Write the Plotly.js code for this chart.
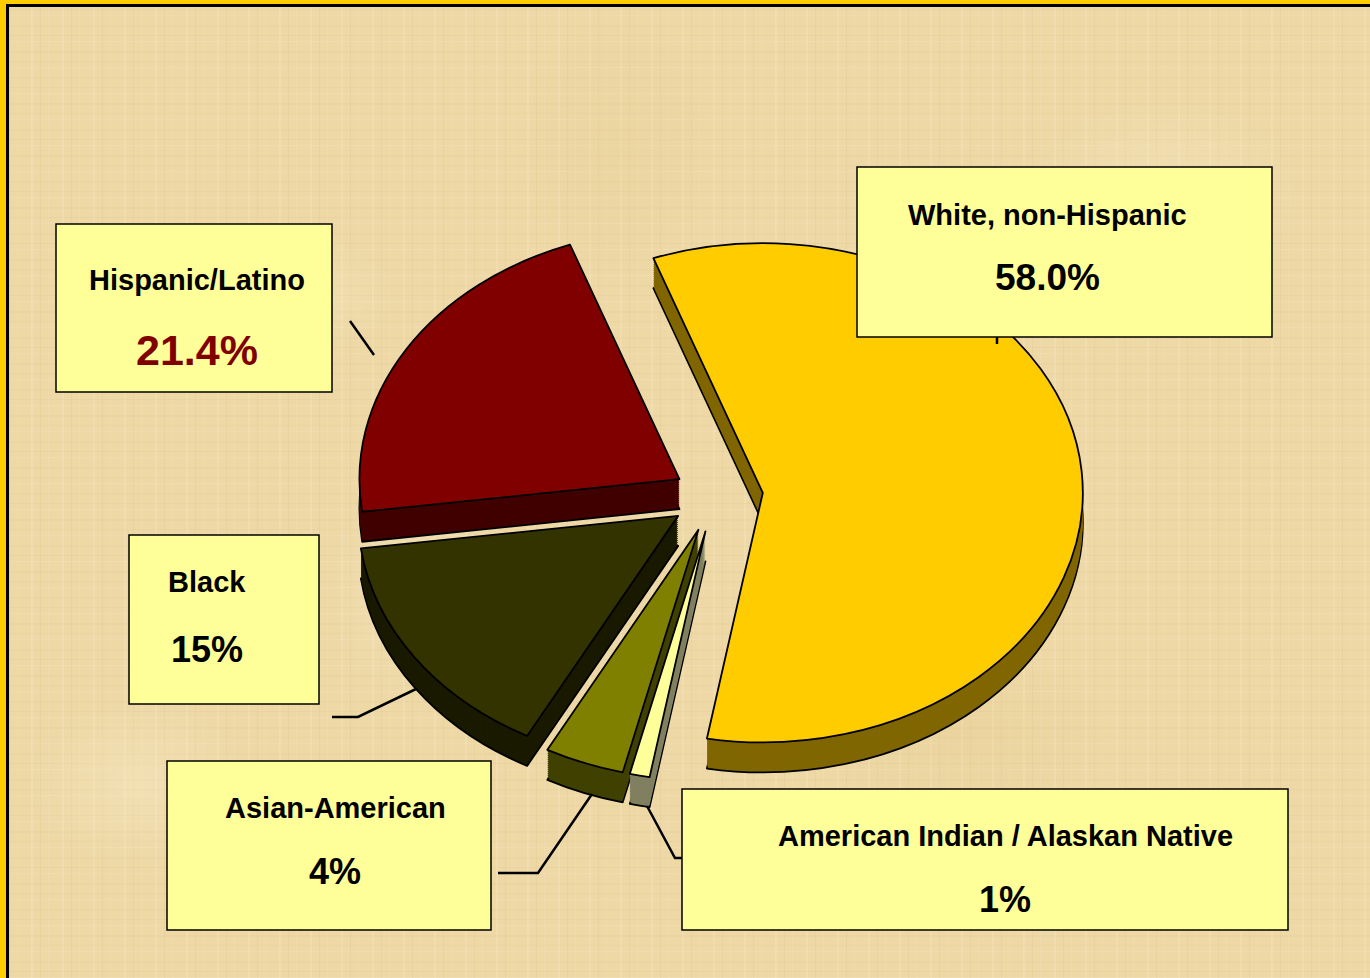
<!DOCTYPE html>
<html>
<head>
<meta charset="utf-8">
<script src="https://cdn.plot.ly/plotly-3.0.1.min.js"></script>
<style>
  html, body { margin: 0; padding: 0; width: 1370px; height: 978px; overflow: hidden; }
  body {
    background-color: #EDD8A6;
    background-image:
      radial-gradient(ellipse 180px 90px at 20% 30%, rgba(255,242,205,0.35), rgba(255,240,200,0) 70%),
      radial-gradient(ellipse 220px 120px at 70% 75%, rgba(225,195,130,0.22), rgba(225,195,130,0) 70%),
      radial-gradient(ellipse 200px 140px at 85% 20%, rgba(255,242,210,0.3), rgba(255,240,205,0) 70%),
      radial-gradient(ellipse 160px 120px at 10% 80%, rgba(255,242,210,0.3), rgba(255,242,210,0) 70%),
      radial-gradient(ellipse 140px 200px at 45% 15%, rgba(228,200,140,0.2), rgba(228,200,140,0) 70%),
      radial-gradient(ellipse 120px 160px at 30% 60%, rgba(255,244,214,0.25), rgba(255,244,214,0) 70%),
      repeating-linear-gradient(90deg, rgba(255,246,220,0.18) 0 2px, rgba(0,0,0,0) 2px 9px, rgba(185,145,75,0.08) 9px 10px, rgba(0,0,0,0) 10px 17px, rgba(255,246,220,0.1) 17px 18px, rgba(0,0,0,0) 18px 31px),
      repeating-linear-gradient(0deg, rgba(255,246,220,0.14) 0 1px, rgba(0,0,0,0) 1px 6px, rgba(185,145,75,0.07) 6px 7px, rgba(0,0,0,0) 7px 15px, rgba(185,145,75,0.05) 15px 17px, rgba(0,0,0,0) 17px 26px);
  }
  #chart { position: absolute; left: 0; top: 0; width: 1370px; height: 978px; }
  #frame { position: absolute; left: 0; top: 0; width: 1370px; height: 978px; box-sizing: border-box;
           border-left: 6px solid #FFCC00; border-top: 4px solid #FFCC00; pointer-events: none; }
  #frame2 { position: absolute; left: 6px; top: 4px; width: 1364px; height: 974px; box-sizing: border-box;
           border-left: 3px solid #000; border-top: 3px solid #000; pointer-events: none; }
</style>
</head>
<body>
<div id="chart"></div>
<div id="frame"></div>
<div id="frame2"></div>
<script>
// ---- data ----
const categories = ['White, non-Hispanic', 'American Indian / Alaskan Native', 'Asian-American', 'Black', 'Hispanic/Latino'];
const shares = [58.0, 1, 4, 15, 21.4];
const pctLabels = ['58.0%', '1%', '4%', '15%', '21.4%'];
const topColors = ['#FFCC00', '#FFFF99', '#808000', '#333300', '#800000'];
const sideColors = ['#806600', '#808060', '#404000', '#1A1A00', '#400000'];
const pulls = [0.15, 0.145, 0.145, 0.14, 0.13];

// ---- layout geometry (pixels) ----
const W = 1370, H = 978;
const CX = 715, CY = 496, R = 320, SQUASH = 0.78, DEPTH = 30, LAYERS = 15;
const half = R * (1 + Math.max(...pulls));
const px = v => v / W;
const py = v => 1 - v / H;

function pieTrace(colors, offsetPx, lineW) {
  const off = offsetPx / SQUASH;
  return {
    type: 'pie',
    labels: categories,
    values: shares,
    sort: false,
    direction: 'clockwise',
    rotation: 340,
    pull: pulls,
    textinfo: 'none',
    hoverinfo: 'skip',
    showlegend: false,
    marker: { colors: colors, line: { color: lineW > 0 ? '#000000' : 'rgba(0,0,0,0)', width: lineW } },
    domain: {
      x: [px(CX - half), px(CX + half)],
      y: [py(CY + half + off), py(CY - half + off)]
    }
  };
}

// extruded side: stacked copies, deepest first (outlined), then the top face
const data = [pieTrace(sideColors, DEPTH, 1.8)];
for (let k = LAYERS - 1; k >= 1; k--) data.push(pieTrace(sideColors, DEPTH * k / LAYERS, 0));
data.push(pieTrace(topColors, 0, 1.8));

// label boxes [x0, y0, x1, y1] in px, text centre x, label y, pct y
const boxes = [
  { b: [857, 167, 1272, 337], cx: 1047, ly: 215, py: 277, ps: 37, pc: '#000000' },
  { b: [682, 789, 1288, 930], cx: 1005, ly: 836, py: 899, ps: 36, pc: '#000000' },
  { b: [167, 761, 491, 930], cx: 335, ly: 808, py: 871, ps: 36, pc: '#000000' },
  { b: [129, 535, 319, 704], cx: 207, ly: 582, py: 649, ps: 36, pc: '#000000' },
  { b: [56, 224, 332, 392], cx: 197, ly: 280, py: 350, ps: 43, pc: '#800000' }
];
const leaders = [
  [[997, 337], [997, 344]],
  [[647, 806], [675, 858], [683, 858]],
  [[498, 873], [538, 873], [592, 794]],
  [[332, 717], [358, 717], [416, 689]],
  [[350, 321], [374, 355]]
];

const shapes = [];
leaders.forEach(pts => {
  const d = pts.map((p, i) => (i ? 'L ' : 'M ') + px(p[0]) + ' ' + py(p[1])).join(' ');
  shapes.push({ type: 'path', xref: 'paper', yref: 'paper', path: d, layer: 'above',
                line: { color: '#000000', width: 2.5 } });
});
boxes.forEach(o => {
  shapes.push({ type: 'rect', xref: 'paper', yref: 'paper', layer: 'above',
    x0: px(o.b[0]), x1: px(o.b[2]), y0: py(o.b[3]), y1: py(o.b[1]),
    fillcolor: '#FFFF99', line: { color: '#000000', width: 1.5 } });
});

const FONT = 'Liberation Sans, Arial, Helvetica, sans-serif';
const annotations = [];
boxes.forEach((o, i) => {
  annotations.push({ xref: 'paper', yref: 'paper', x: px(o.cx), y: py(o.ly), xanchor: 'center', yanchor: 'middle',
    showarrow: false, text: categories[i], font: { family: FONT, size: 29, color: '#000000', weight: 'bold' } });
  annotations.push({ xref: 'paper', yref: 'paper', x: px(o.cx), y: py(o.py), xanchor: 'center', yanchor: 'middle',
    showarrow: false, text: pctLabels[i], font: { family: FONT, size: o.ps, color: o.pc, weight: 'bold' } });
});

const layout = {
  width: W, height: H,
  margin: { l: 0, r: 0, t: 0, b: 0 },
  paper_bgcolor: 'rgba(0,0,0,0)',
  plot_bgcolor: 'rgba(0,0,0,0)',
  showlegend: false,
  hovermode: false,
  shapes: shapes,
  annotations: annotations
};

Plotly.newPlot('chart', data, layout, { staticPlot: true, displayModeBar: false }).then(gd => {
  const layer = gd.querySelector('.pielayer');
  if (layer) {
    layer.setAttribute('transform', 'translate(0,' + CY + ') scale(1,' + SQUASH + ') translate(0,' + (-CY) + ')');
    layer.querySelectorAll('path.surface').forEach(p => { p.style.vectorEffect = 'non-scaling-stroke'; });
  }
});
</script>
</body>
</html>
